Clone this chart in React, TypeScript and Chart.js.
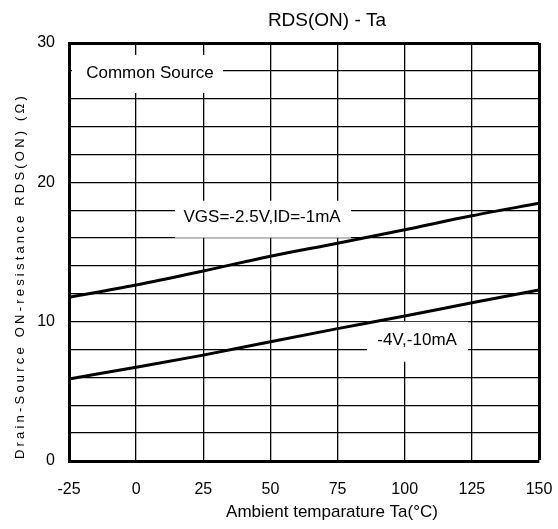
import React, { useEffect, useRef } from "react";
import { Chart, registerables } from "chart.js";

Chart.register(...registerables);

const temps = [-25, 0, 25, 50, 75, 100, 125, 150];
const rdsVgs25 = [11.75, 12.63, 13.64, 14.7, 15.63, 16.6, 17.6, 18.5];
const rdsVgs4 = [5.89, 6.73, 7.6, 8.56, 9.5, 10.4, 11.36, 12.27];
const yLabeled = [0, 10, 20, 30];

const chartTitle = "RDS(ON) - Ta";
const xTitle = "Ambient temparature Ta(°C)";
const yTitle = "Drain-Source ON-resistance RDS(ON) (Ω)";
const labelCommon = "Common Source";
const labelSeries1 = "VGS=-2.5V,ID=-1mA";
const labelSeries2 = "-4V,-10mA";

const FONT = "'Liberation Sans', Arial, sans-serif";

export default function App() {
  const ref = useRef<HTMLCanvasElement | null>(null);

  useEffect(() => {
    if (!ref.current) return;
    const notes = [
      { text: labelCommon, x: 5.16, y: 27.85, l: 78, r: 73, t: 18, b: 20 },
      { text: labelSeries1, x: 46.9, y: 17.46, l: 87, r: 89, t: 17, b: 20 },
      { text: labelSeries2, x: 104.6, y: 8.63, l: 50, r: 51, t: 19, b: 21 },
    ];
    const notePlugin = {
      id: "notes",
      beforeDatasetsDraw(chart: any) {
        const ctx = chart.ctx;
        const xs = chart.scales.x;
        const ys = chart.scales.y;
        ctx.save();
        for (const n of notes) {
          const px = xs.getPixelForValue(n.x);
          const py = ys.getPixelForValue(n.y);
          ctx.fillStyle = "#fff";
          ctx.fillRect(px - n.l, py - n.t, n.l + n.r, n.t + n.b);
          ctx.fillStyle = "#000";
          ctx.font = `17px ${FONT}`;
          ctx.textAlign = "center";
          ctx.textBaseline = "middle";
          ctx.fillText(n.text, px, py);
        }
        ctx.restore();
      },
      afterDraw(chart: any) {
        const ctx = chart.ctx;
        ctx.save();
        ctx.fillStyle = "#000";
        ctx.textAlign = "center";
        ctx.textBaseline = "middle";
        ctx.font = `19px ${FONT}`;
        ctx.fillText(chartTitle, 327, 21);
        ctx.font = `17px ${FONT}`;
        ctx.fillText(xTitle, 332, 512);
        ctx.translate(20, 276);
        ctx.rotate(-Math.PI / 2);
        ctx.font = `13px ${FONT}`;
        (ctx as any).letterSpacing = "3.2px";
        ctx.fillText(yTitle, 0, 0);
        ctx.restore();
      },
    };

    const chart = new Chart(ref.current, {
      type: "line",
      data: {
        datasets: [
          {
            label: labelSeries1,
            data: temps.map((t, i) => ({ x: t, y: rdsVgs25[i] })),
            borderColor: "#000",
            borderWidth: 3,
            pointRadius: 0,
            cubicInterpolationMode: "monotone",
          },
          {
            label: labelSeries2,
            data: temps.map((t, i) => ({ x: t, y: rdsVgs4[i] })),
            borderColor: "#000",
            borderWidth: 3,
            pointRadius: 0,
            cubicInterpolationMode: "monotone",
          },
        ],
      },
      options: {
        animation: false,
        responsive: false,
        layout: { padding: { left: 0, right: 19, top: 43, bottom: 0 } },
        plugins: {
          legend: { display: false },
          title: { display: false },
          tooltip: { enabled: false },
        },
        scales: {
          x: {
            type: "linear",
            min: -25,
            max: 150,
            afterFit: (s: any) => {
              s.height = 68;
              s.paddingLeft = 0;
              s.paddingRight = 0;
            },
            ticks: {
              stepSize: 25,
              autoSkip: false,
              maxRotation: 0,
              padding: 19,
              color: "#000",
              font: { family: FONT, size: 16 },
            },
            grid: {
              color: "#000",
              lineWidth: (c: any) => (c.tick && c.tick.value === 150 ? 3 : 1.3),
              drawTicks: false,
            },
            border: { color: "#000", width: 3 },
          },
          y: {
            type: "linear",
            min: 0,
            max: 30,
            afterFit: (s: any) => {
              s.width = 69;
              s.paddingTop = 0;
              s.paddingBottom = 0;
            },
            ticks: {
              stepSize: 2,
              autoSkip: false,
              padding: 14,
              color: "#000",
              font: { family: FONT, size: 16 },
              callback: (v: any) => (yLabeled.includes(Number(v)) ? String(v) : ""),
            },
            grid: {
              color: "#000",
              lineWidth: (c: any) => (c.tick && c.tick.value === 30 ? 3 : 1.3),
              drawTicks: false,
            },
            border: { color: "#000", width: 3 },
          },
        },
      },
      plugins: [notePlugin],
    } as any);
    return () => chart.destroy();
  }, []);

  return (
    <div style={{ position: "absolute", left: 0, top: 0, width: 558, height: 529, background: "#fff" }}>
      <canvas ref={ref} width={558} height={529} style={{ display: "block" }} />
    </div>
  );
}
